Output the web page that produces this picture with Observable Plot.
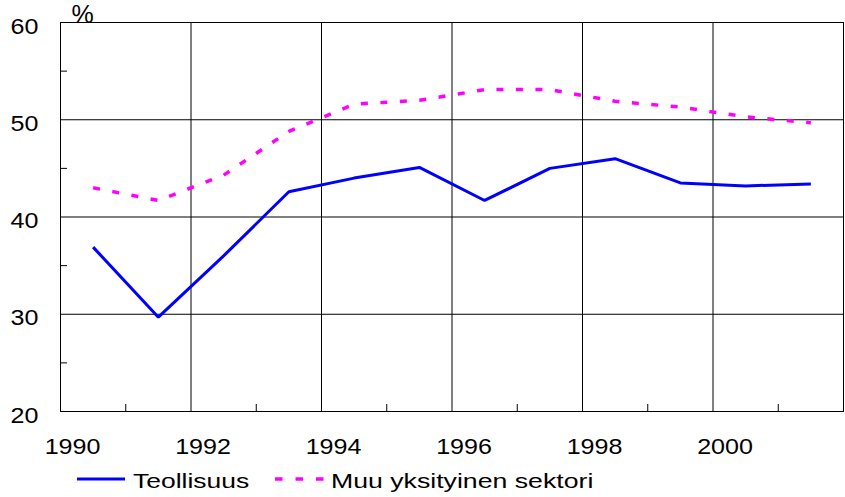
<!DOCTYPE html>
<html><head><meta charset="utf-8">
<script src="https://cdn.jsdelivr.net/npm/d3@7"></script>
<script src="https://cdn.jsdelivr.net/npm/@observablehq/plot@0.6"></script>
<style>
body{margin:0;background:#fff;}
#chart svg{display:block;}
</style></head><body><div id="chart"></div>
<script>
// ---- data ----
const years = [1990, 1991, 1992, 1993, 1994, 1995, 1996, 1997, 1998, 1999, 2000, 2001];
const teollisuus = [36.9, 29.7, 36.0, 42.6, 44.0, 45.1, 41.7, 45.0, 46.0, 43.5, 43.2, 43.4];
const muuSektori = [43.0, 41.7, 44.3, 48.8, 51.6, 52.0, 53.1, 53.1, 51.9, 51.3, 50.3, 49.7];
const seriesNames = ["Teollisuus", "Muu yksityinen sektori"];
const xTicks = [1990, 1992, 1994, 1996, 1998, 2000];
const xMinor = [1991, 1993, 1995, 1997, 1999, 2001];
const yTicks = [20, 30, 40, 50, 60];
const yGrid = [30, 40, 50];
const yMinor = [25, 35, 45, 55];
const unitLabel = ["%"];

// annual values are plotted at the middle of each year
const rows1 = years.map((y, i) => ({t: y + 0.5, v: teollisuus[i]}));
const rows2 = years.map((y, i) => ({t: y + 0.5, v: muuSektori[i]}));

const W = 845, H = 460, mL = 60, mR = 2, mT = 22, mB = 49;
const FONT = "'Liberation Sans', Arial, sans-serif";

const plot = Plot.plot({
  width: W, height: H,
  marginLeft: mL, marginRight: mR, marginTop: mT, marginBottom: mB,
  style: {fontFamily: FONT, fontSize: "22px", color: "#000", background: "#fff"},
  x: {domain: [1990, 2002]},
  y: {domain: [20, 60]},
  marks: [
    Plot.gridX(xTicks.slice(1), {stroke: "#000", strokeOpacity: 1, strokeWidth: 1}),
    Plot.gridY(yGrid, {stroke: "#000", strokeOpacity: 1, strokeWidth: 1}),
    Plot.tickY(yMinor, {y: d => d, stroke: "#000", insetRight: W - mL - mR - 7}),
    Plot.tickX(xMinor, {x: d => d, stroke: "#000", insetTop: H - mT - mB - 7}),
    Plot.frame({stroke: "#000", strokeWidth: 1}),
    Plot.axisX({ticks: xTicks, tickSize: 0, tickPadding: 27, dx: 12, tickFormat: d => String(d), label: null}),
    Plot.axisY({ticks: yTicks, tickSize: 0, tickPadding: 22, dy: 4, label: null}),
    Plot.line(rows1, {x: "t", y: "v", stroke: "#0000ff", strokeWidth: 3, strokeLinejoin: "miter", strokeLinecap: "butt"}),
    Plot.line(rows2, {x: "t", y: "v", stroke: "#ff00ff", strokeWidth: 3.5, strokeDasharray: "7,12.5", strokeLinejoin: "miter", strokeLinecap: "butt"}),
    Plot.text(unitLabel, {frameAnchor: "top-left", textAnchor: "middle", dx: 22, dy: -8, lineAnchor: "middle", fontSize: 25})
  ]
});

// stretch axis tick labels horizontally (reference font is wide)
plot.querySelectorAll('g[aria-label$="tick label"] text').forEach(t => {
  const x = +(t.getAttribute("x") || 0);
  t.removeAttribute("x");
  const tr = t.getAttribute("transform") || "";
  t.setAttribute("transform", `${tr} translate(${x},0) scale(1.14,1)`);
});

document.getElementById("chart").appendChild(plot);

// ---- legend below the chart ----
const leg = d3.create("svg").attr("width", W).attr("height", 37)
  .style("display", "block").style("font-family", FONT).style("font-size", "21px");
leg.append("line").attr("x1", 77).attr("x2", 125).attr("y1", 19).attr("y2", 19)
  .attr("stroke", "#0000ff").attr("stroke-width", 3);
leg.append("text").attr("transform", "translate(133,28) scale(1.26,1)").attr("fill", "#000").text(seriesNames[0]);
leg.append("line").attr("x1", 275).attr("x2", 325).attr("y1", 19).attr("y2", 19)
  .attr("stroke", "#ff00ff").attr("stroke-width", 3.5).attr("stroke-dasharray", "7.5,13");
leg.append("text").attr("transform", "translate(331,28) scale(1.27,1)").attr("fill", "#000").text(seriesNames[1]);
document.getElementById("chart").appendChild(leg.node());
</script>
</body></html>
